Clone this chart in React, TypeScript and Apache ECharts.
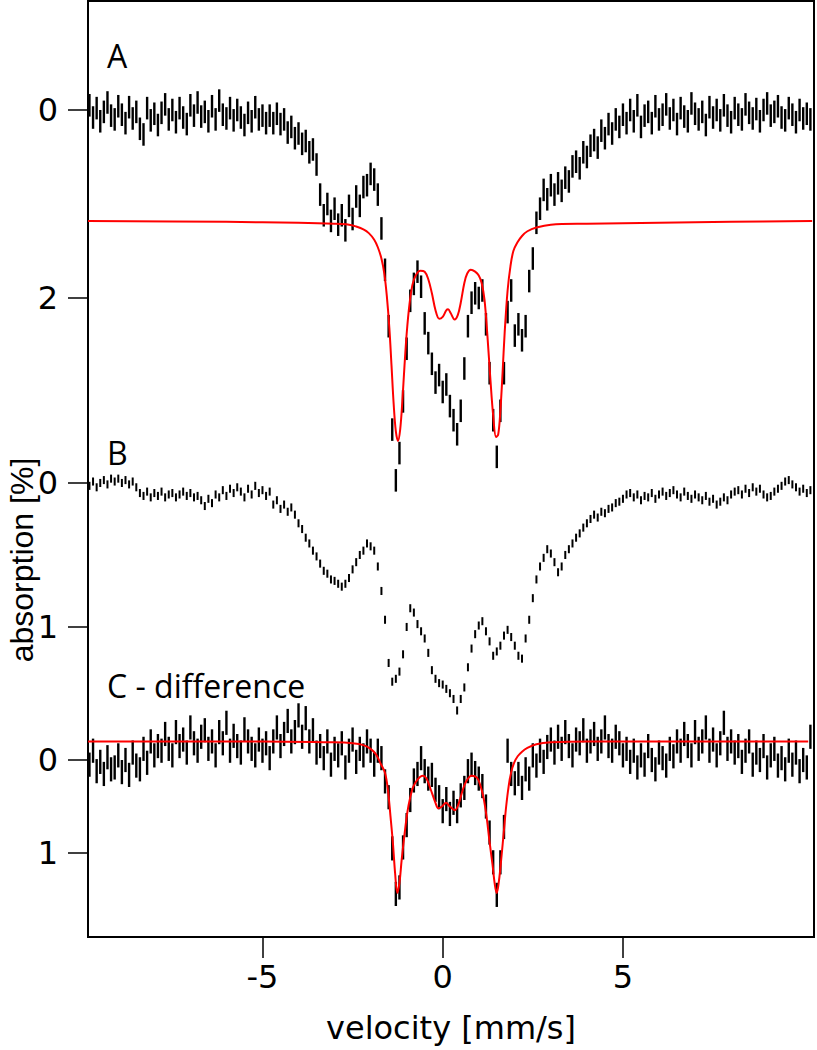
import React, { useEffect, useRef } from "react";
import * as echarts from "echarts";

// velocity channels
const velocityStart = -9.8;
const velocityStep = 0.1;

// A: measured spectrum (absorption %, downward)
const spectrumA = [
  -0.05, 0.08, -0.02, 0.12, 0.02, -0.08, 0.06, 0.1, -0.04, 0.05,
  0.14, -0.03, 0.09, 0.02, 0.2, 0.26, -0.02, 0.11, 0.04, 0.16,
  0.03, -0.06, 0.1, 0.0, 0.13, -0.02, 0.08, 0.15, -0.05, 0.06,
  -0.08, 0.07, 0.02, 0.12, -0.04, 0.1, -0.1, 0.05, 0.09, -0.02,
  0.11, 0.0, 0.08, 0.16, 0.03, 0.12, -0.03, 0.1, 0.06, 0.14,
  0.06, 0.14, 0.04, 0.15, 0.1, 0.24, 0.18, 0.3, 0.25, 0.36,
  0.33, 0.45, 0.42, 0.58, 0.9, 1.12, 1.0, 1.18, 1.05, 1.22,
  1.12, 1.28, 1.02, 1.16, 0.92, 1.02, 0.82, 0.8, 0.68, 0.74,
  0.9, 1.26, 1.7, 2.3, 3.4, 3.94, 3.65, 3.1, 2.54, 2.03,
  1.85, 1.72, 1.88, 2.27, 2.48, 2.7, 2.9, 2.82, 3.0, 2.92,
  3.15, 3.3, 3.45, 3.2, 2.75, 2.3, 2.05, 1.95, 2.0, 1.92,
  2.28, 2.8, 3.3, 3.69, 3.2, 2.8, 2.15, 1.92, 2.4, 2.28,
  2.45, 2.3, 1.82, 1.58, 1.2, 1.05, 0.85, 0.95, 0.8, 0.9,
  0.78, 0.86, 0.72, 0.76, 0.6, 0.55, 0.62, 0.45, 0.5, 0.38,
  0.32, 0.4, 0.22, 0.3, 0.15, 0.25, 0.1, 0.18, 0.05, 0.14,
  0.0, 0.12, -0.05, 0.18, 0.06, 0.02, 0.14, -0.04, 0.1, 0.05,
  -0.06, 0.09, 0.0, 0.15, -0.02, 0.07, 0.12, -0.07, 0.04, 0.1,
  0.02, 0.16, -0.03, 0.08, 0.0, 0.11, -0.05, 0.06, 0.13, -0.02,
  0.05, 0.1, -0.06, 0.03, 0.09, -0.01, 0.12, 0.0, -0.07, 0.06,
  0.02, -0.04, 0.08, 0.11, -0.02, 0.05, 0.13, 0.0, 0.09, 0.04, 0.1,
];

// B: spectrum
const spectrumB = [
  0.02, -0.01, 0.03, 0.0, -0.02, 0.01, -0.03, -0.01, -0.03, 0.0,
  -0.02, 0.01, -0.01, 0.03, 0.07, 0.09, 0.06, 0.1, 0.07, 0.09,
  0.06, 0.1, 0.08, 0.07, 0.1, 0.08, 0.06, 0.09, 0.07, 0.1,
  0.09, 0.12, 0.16, 0.11, 0.14, 0.08, 0.1, 0.05, 0.09, 0.04,
  0.07, 0.03, 0.06, 0.1, 0.04, 0.08, 0.02, 0.07, 0.05, 0.09,
  0.06, 0.15, 0.12, 0.18, 0.15, 0.2, 0.17, 0.22, 0.28, 0.32,
  0.38, 0.42, 0.47, 0.51, 0.56, 0.61, 0.63, 0.67, 0.68, 0.7,
  0.72, 0.7, 0.66, 0.6, 0.55, 0.5, 0.47, 0.42, 0.44, 0.47,
  0.58, 0.75, 0.95, 1.25, 1.38, 1.36, 1.31, 1.19, 1.0, 0.87,
  0.9, 0.98, 1.03, 1.08, 1.18, 1.3, 1.36, 1.39, 1.4, 1.43,
  1.46, 1.5, 1.58, 1.5, 1.42, 1.28, 1.15, 1.05, 0.99, 0.96,
  1.03, 1.1, 1.2, 1.17, 1.13, 1.06, 1.02, 1.07, 1.13, 1.2,
  1.22, 1.08, 0.95, 0.8, 0.67, 0.58, 0.52, 0.46, 0.49, 0.55,
  0.62, 0.58, 0.5, 0.46, 0.42, 0.38, 0.35, 0.31, 0.28, 0.25,
  0.22, 0.24, 0.2, 0.21, 0.18, 0.17, 0.14, 0.13, 0.11, 0.08,
  0.07, 0.1, 0.08, 0.12, 0.09, 0.1, 0.07, 0.11, 0.08, 0.06,
  0.09, 0.07, 0.05, 0.08, 0.1, 0.06, 0.09, 0.11, 0.08, 0.1,
  0.12, 0.09, 0.13, 0.11, 0.15, 0.13, 0.1, 0.12, 0.08, 0.06,
  0.05, 0.08, 0.04, 0.07, 0.03, 0.06, 0.04, 0.08, 0.1, 0.09,
  0.06, 0.04, 0.02, -0.01, -0.02, 0.01, 0.03, 0.06, 0.04, 0.07, 0.05,
];

// C: difference spectrum
const spectrumC = [
  0.05, -0.1, 0.12, 0.02, 0.15, -0.03, 0.1, 0.08, -0.05, 0.13,
  0.0, 0.16, -0.08, 0.06, 0.1, -0.12, 0.03, -0.2, -0.05, -0.15,
  -0.1, -0.28, -0.12, -0.05, -0.3, -0.15, -0.22, -0.08, -0.35, -0.18,
  -0.1, -0.25, -0.32, -0.12, -0.2, -0.05, -0.3, -0.18, -0.4, -0.1,
  -0.26, -0.15, -0.08, -0.33, -0.2, -0.12, -0.05, -0.22, -0.1, -0.18,
  -0.02, -0.2, -0.35, -0.15, -0.28, -0.42, -0.2, -0.3, -0.48, -0.25,
  -0.45, -0.2, -0.32, -0.08, -0.15, -0.02, -0.2, 0.05, -0.12, -0.05,
  -0.18, 0.08, -0.1, -0.22, 0.02, -0.12, -0.05, -0.2, -0.1, 0.05,
  -0.1, -0.02, 0.23, 0.4, 0.95, 1.44, 1.37, 0.94, 0.7, 0.43,
  0.22, 0.15, -0.02, 0.12, 0.2, 0.16, 0.32, 0.4, 0.55, 0.42,
  0.58, 0.46, 0.55, 0.38, 0.3, 0.12, 0.05, 0.14, 0.2, 0.28,
  0.5, 0.78, 1.1, 1.45, 1.1, 0.72, -0.1, 0.15, 0.25, 0.15,
  0.3, 0.1, 0.2, -0.05, 0.06, -0.1, 0.02, -0.14, -0.22, -0.08,
  -0.25, -0.12, -0.3, -0.15, -0.05, -0.22, -0.18, -0.32, -0.1, -0.2,
  -0.28, -0.12, -0.2, -0.35, -0.15, -0.1, -0.25, -0.18, -0.05, -0.12,
  0.02, -0.1, 0.08, -0.05, 0.05, -0.15, 0.0, 0.1, -0.08, -0.02,
  0.06, -0.12, -0.04, -0.2, -0.1, -0.28, -0.15, -0.05, -0.3, -0.12,
  -0.2, -0.35, -0.1, -0.22, -0.05, -0.18, -0.4, -0.12, -0.2, -0.08,
  -0.15, 0.02, -0.1, -0.2, 0.05, -0.08, 0.0, -0.15, 0.08, -0.05,
  -0.12, 0.06, -0.02, 0.1, -0.1, 0.05, -0.08, 0.12, 0.0, 0.08, -0.25,
];

// error bar half-lengths (absorption %)
const errA = 0.12;
const errB = 0.028;
const errC = 0.13;

// fitted curve drawn in panel A
const fitAVelocity = [
  -9.84, -6, -4, -3, -2.6, -2.4, -2.2, -2.05, -1.9, -1.8, -1.7, -1.62, -1.55,
  -1.48, -1.42, -1.36, -1.3, -1.24, -1.18, -1.12, -1.06, -1.0, -0.92, -0.84,
  -0.75, -0.62, -0.5, -0.4, -0.3, -0.2, -0.1, 0.0, 0.1, 0.15, 0.22, 0.33, 0.42,
  0.5, 0.6, 0.68, 0.78, 0.9, 1.0, 1.08, 1.16, 1.24, 1.32, 1.4, 1.48, 1.54, 1.6,
  1.66, 1.72, 1.8, 1.88, 1.96, 2.07, 2.2, 2.35, 2.6, 3.0, 4.0, 6.0, 8.0, 10.25,
];
const fitAValue = [
  1.18, 1.19, 1.2, 1.21, 1.22, 1.24, 1.27, 1.31, 1.38, 1.46, 1.58, 1.74, 1.98,
  2.32, 2.72, 3.13, 3.42, 3.52, 3.4, 3.1, 2.72, 2.38, 2.06, 1.86,
  1.76, 1.71, 1.72, 1.8, 1.95, 2.13, 2.22, 2.2, 2.13, 2.12, 2.16, 2.23, 2.18,
  2.05, 1.84, 1.74, 1.7, 1.72, 1.76, 1.84, 2.02, 2.4, 2.85, 3.25, 3.48, 3.45, 3.2,
  2.8, 2.36, 1.92, 1.66, 1.5, 1.41, 1.34, 1.29, 1.25, 1.22, 1.21, 1.2, 1.19, 1.18,
];

// fitted curve drawn in panel C
const fitCVelocity = [
  -9.84, -5, -3, -2.5, -2.2, -2.0, -1.85, -1.72, -1.6, -1.52, -1.45, -1.38,
  -1.32, -1.26, -1.2, -1.14, -1.06, -0.98, -0.9, -0.82, -0.7, -0.55, -0.45,
  -0.33, -0.2, -0.12, -0.02, 0.09, 0.2, 0.34, 0.45, 0.55, 0.65, 0.8, 0.95,
  1.05, 1.14, 1.22, 1.3, 1.38, 1.45, 1.5, 1.56, 1.63, 1.7, 1.76, 1.83, 1.9,
  1.98, 2.08, 2.2, 2.35, 2.6, 3.0, 4.0, 10.14,
];
const fitCValue = [
  -0.2, -0.2, -0.19, -0.18, -0.16, -0.12, -0.06, 0.04, 0.14, 0.32, 0.6, 0.9,
  1.22, 1.43, 1.32, 1.08, 0.8, 0.56, 0.4, 0.29, 0.21, 0.17, 0.2,
  0.32, 0.46, 0.52, 0.5, 0.46, 0.5, 0.54, 0.46, 0.33, 0.23, 0.17, 0.19,
  0.28, 0.42, 0.62, 0.88, 1.12, 1.35, 1.43, 1.3, 1.04, 0.75, 0.5, 0.28, 0.13,
  0.03, -0.04, -0.09, -0.13, -0.17, -0.19, -0.2, -0.2,
];

const ticksA = [0, 2];
const ticksB = [0, 1];
const ticksC = [0, 1];
const velocityTicks = [-5, 0, 5];

const panelLabels = ["A", "B", "C - difference"];
const xAxisName = "velocity [mm/s]";
const yAxisName = "absorption [%]";

export default function App() {
  const ref = useRef<HTMLDivElement>(null);

  useEffect(() => {
    if (!ref.current) return;
    const chart = echarts.init(ref.current, undefined, { renderer: "svg" });

    const velocity = spectrumA.map((_, i) =>
      Number((velocityStart + velocityStep * i).toFixed(2))
    );
    const bars = (vals: number[], err: number) =>
      vals.map((v, i) => [velocity[i], v, err]);

    const gridBox = { left: 88, top: 1, width: 726, height: 936 };
    const xMin = -9.84;
    const xMax = 10.3;
    // panel y ranges, so that each panel's zero lands at its own place in the frame
    const yRanges = [
      { min: -1.1596, max: 8.798, ticks: ticksA },
      { min: -3.347, max: 3.153, ticks: ticksB },
      { min: -8.161, max: 1.903, ticks: ticksC },
    ];

    const makeRenderBar = (width: number) => (params: any, api: any) => {
      const x = api.value(0);
      const y = api.value(1);
      const e = api.value(2);
      const p1 = api.coord([x, y - e]);
      const p2 = api.coord([x, y + e]);
      return {
        type: "line",
        shape: { x1: p1[0], y1: p1[1], x2: p2[0], y2: p2[1] },
        style: { stroke: "#000", lineWidth: width },
      };
    };

    const tickFont = { fontFamily: "DejaVu Sans", fontSize: 32, color: "#000" };

    const option: any = {
      animation: false,
      backgroundColor: "#fff",
      grid: [0, 1, 2].map((i) => ({
        ...gridBox,
        show: i === 2,
        borderColor: "#000",
        borderWidth: 2,
        backgroundColor: "transparent",
        containLabel: false,
      })),
      xAxis: [0, 1, 2].map((i) => ({
        type: "value",
        gridIndex: i,
        min: xMin,
        max: xMax,
        show: i === 2,
        position: "bottom",
        name: i === 2 ? xAxisName : "",
        nameLocation: "middle",
        nameGap: 75,
        nameTextStyle: { ...tickFont },
        axisLine: { show: false, onZero: false },
        splitLine: { show: false },
        axisTick: {
          show: true,
          inside: false,
          length: 21,
          customValues: velocityTicks,
          lineStyle: { color: "#000", width: 1.5 },
        },
        axisLabel: {
          show: true,
          customValues: velocityTicks,
          margin: 24,
          ...tickFont,
        },
      })),
      yAxis: yRanges.map((r, i) => ({
        type: "value",
        gridIndex: i,
        inverse: true,
        min: r.min,
        max: r.max,
        position: "left",
        axisLine: { show: false, onZero: false },
        splitLine: { show: false },
        axisTick: {
          show: true,
          inside: false,
          length: 20,
          customValues: r.ticks,
          lineStyle: { color: "#000", width: 1.5 },
        },
        axisLabel: {
          show: true,
          customValues: r.ticks,
          margin: 30,
          ...tickFont,
        },
      })),
      series: [
        {
          type: "custom",
          xAxisIndex: 0,
          yAxisIndex: 0,
          renderItem: makeRenderBar(2.4),
          data: bars(spectrumA, errA),
          encode: { x: 0, y: 1 },
          silent: true,
        },
        {
          type: "line",
          xAxisIndex: 0,
          yAxisIndex: 0,
          data: fitAVelocity.map((v, i) => [v, fitAValue[i]]),
          showSymbol: false,
          smooth: 0.35,
          lineStyle: { color: "#ff0000", width: 2 },
          silent: true,
          z: 3,
        },
        {
          type: "custom",
          xAxisIndex: 1,
          yAxisIndex: 1,
          renderItem: makeRenderBar(2),
          data: bars(spectrumB, errB),
          encode: { x: 0, y: 1 },
          silent: true,
        },
        {
          type: "custom",
          xAxisIndex: 2,
          yAxisIndex: 2,
          renderItem: makeRenderBar(2.4),
          data: bars(spectrumC, errC),
          encode: { x: 0, y: 1 },
          silent: true,
        },
        {
          type: "line",
          xAxisIndex: 2,
          yAxisIndex: 2,
          data: fitCVelocity.map((v, i) => [v, fitCValue[i]]),
          showSymbol: false,
          smooth: 0.35,
          lineStyle: { color: "#ff0000", width: 2 },
          silent: true,
          z: 3,
        },
      ],
      graphic: [
        {
          type: "text",
          x: 107,
          y: 55,
          style: {
            text: panelLabels[0],
            fontFamily: "Open Sans",
            fontSize: 32,
            fill: "#000",
            verticalAlign: "middle",
          },
        },
        {
          type: "text",
          x: 107,
          y: 452,
          style: {
            text: panelLabels[1],
            fontFamily: "Open Sans",
            fontSize: 32,
            fill: "#000",
            verticalAlign: "middle",
          },
        },
        {
          type: "text",
          x: 107,
          y: 685,
          style: {
            text: panelLabels[2],
            fontFamily: "Open Sans",
            fontSize: 32,
            fill: "#000",
            verticalAlign: "middle",
          },
        },
        {
          type: "text",
          x: 22,
          y: 560,
          rotation: Math.PI / 2,
          style: {
            text: yAxisName,
            fontFamily: "Liberation Sans",
            fontSize: 32,
            fill: "#000",
            align: "center",
            verticalAlign: "middle",
          },
        },
      ],
    };

    chart.setOption(option);
    return () => chart.dispose();
  }, []);

  return (
    <div
      ref={ref}
      style={{ position: "absolute", left: 0, top: 0, width: 817, height: 1050 }}
    />
  );
}
